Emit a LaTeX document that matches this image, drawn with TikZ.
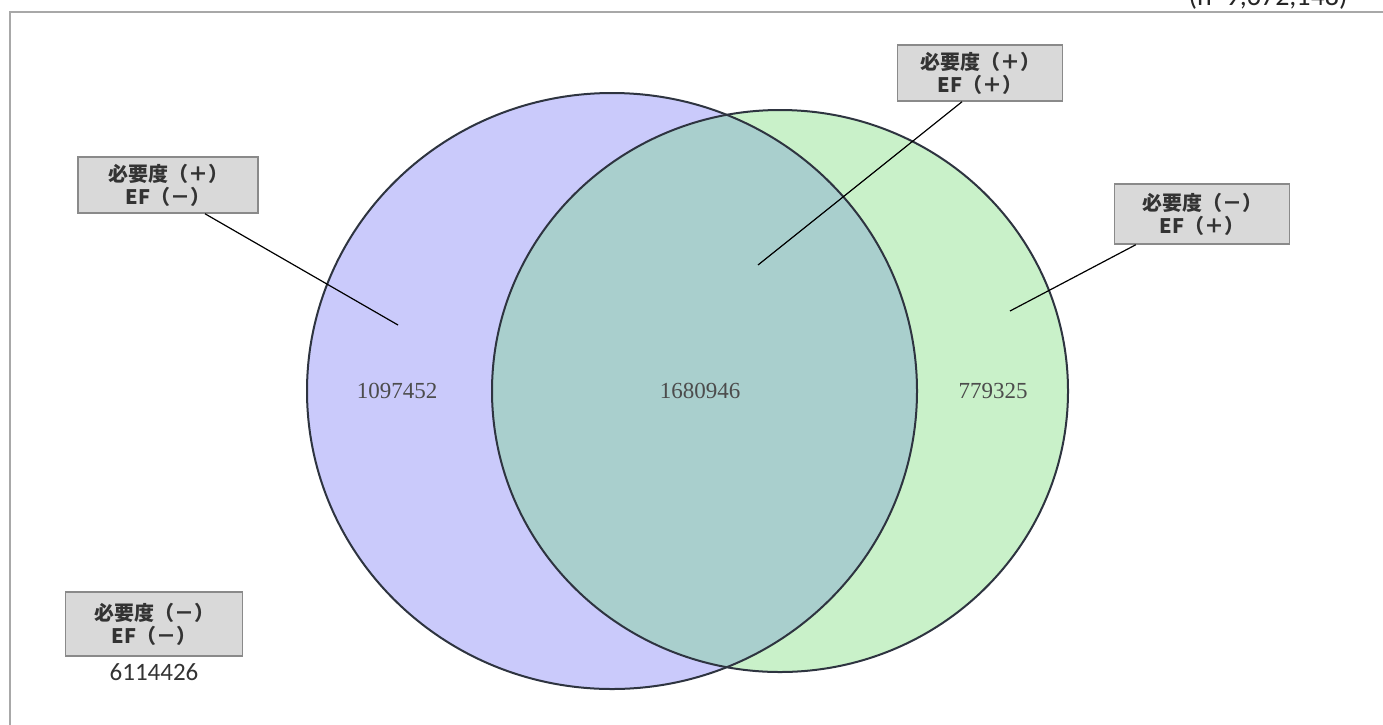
\documentclass[tikz,border=0pt]{standalone}
\usepackage{fontspec}
\newfontfamily\cjk{Noto Sans CJK JP}
\newfontfamily\numfont{Carlito}
\newfontfamily\serifnum{Liberation Serif}
\definecolor{purplefill}{HTML}{CACAFB}
\definecolor{greenfill}{HTML}{C9F1C9}
\definecolor{overlapfill}{HTML}{A9CFCD}
\definecolor{edgecol}{HTML}{2E3440}
\definecolor{boxfill}{HTML}{D9D9D9}
\definecolor{boxedge}{HTML}{8A8A8A}
\definecolor{framecol}{HTML}{A8A8A8}
\tikzset{
  labelbox/.style={draw=boxedge, fill=boxfill, line width=1.5pt, inner sep=0pt, align=center,
    font=\cjk\bfseries\fontsize{20}{23}\selectfont, text=black!80},
  pointer/.style={draw=black, line width=1.2pt},
  regionnum/.style={font=\serifnum\fontsize{23}{23}\selectfont, text=black!70},
  circleedge/.style={draw=edgecol, line width=2pt}
}
\begin{document}
\begin{tikzpicture}[x=1pt, y=-1pt]
\useasboundingbox (0,0) rectangle (1383,724);
\clip (0,0) rectangle (1383,724);
\fill[white] (0,0) rectangle (1383,724);
% frame
\draw[framecol, line width=1.5pt] (1383,12) -- (10,12) -- (10,730);
% top-right total (cut off at top, as in the reference)
\node[anchor=base, font=\numfont\fontsize{28}{28}\selectfont, text=black!85] (total) at (1268,5) {(n=9,672,148)};
% circles
\coordinate (cA) at (612,391);
\coordinate (cB) at (780,391);
\fill[purplefill] (cA) ellipse [x radius=305pt, y radius=298pt];
\fill[greenfill] (cB) ellipse [x radius=288pt, y radius=281pt];
\begin{scope}
  \clip (cA) ellipse [x radius=305pt, y radius=298pt];
  \fill[overlapfill] (cB) ellipse [x radius=288pt, y radius=281pt];
\end{scope}
\draw[circleedge] (cA) ellipse [x radius=305pt, y radius=298pt];
\draw[circleedge] (cB) ellipse [x radius=288pt, y radius=281pt];
% region numbers
\node[regionnum] (nA) at (397,391) {1097452};
\node[regionnum] (nAB) at (700,391) {1680946};
\node[regionnum] (nB) at (993,391) {779325};
% label boxes
\node[labelbox, minimum width=180pt, minimum height=56pt] (b1) at (168,185) {必要度（＋）\\EF（－）};
\node[labelbox, minimum width=165pt, minimum height=56pt] (b2) at (980,73) {必要度（＋）\\EF（＋）};
\node[labelbox, minimum width=175pt, minimum height=60pt] (b3) at (1202,214) {必要度（－）\\EF（＋）};
\node[labelbox, minimum width=177pt, minimum height=64pt] (b4) at (154,624) {必要度（－）\\EF（－）};
\node[font=\numfont\fontsize{25}{25}\selectfont, text=black!80] (n4) at (154,672) {6114426};
% pointers
\coordinate (p1) at (398,325);
\coordinate (p2) at (758,265);
\coordinate (p3) at (1010,311);
\draw[pointer] ([xshift=37pt]b1.south) -- (p1);
\draw[pointer] ([xshift=-18pt]b2.south) -- (p2);
\draw[pointer] ([xshift=22pt]b3.south west) -- (p3);
\end{tikzpicture}
\end{document}
